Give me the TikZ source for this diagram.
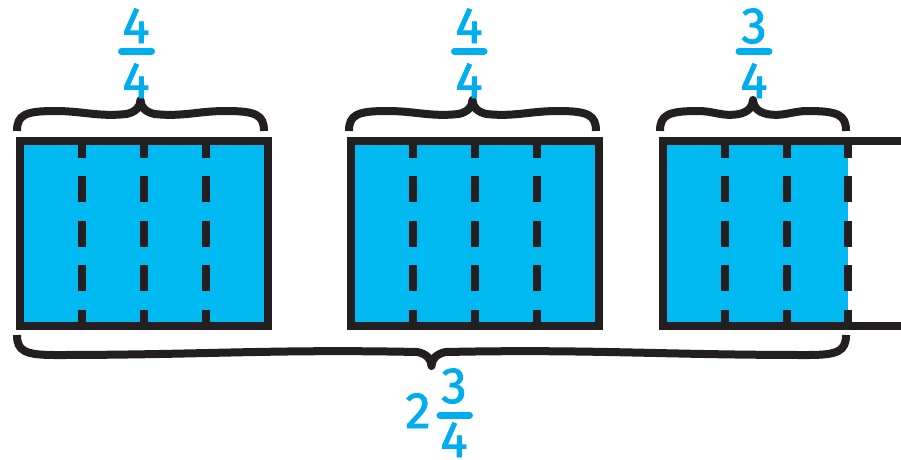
\documentclass[tikz,border=0pt]{standalone}
\usepackage{fontspec}
\setmainfont{Fira Sans}
\newfontfamily\digitfont{Fira Sans}[FakeBold=1.5]
\definecolor{fillblue}{RGB}{0,185,241}
\definecolor{txtblue}{RGB}{0,174,239}
\definecolor{ink}{RGB}{35,31,32}
\tikzset{
  border/.style={draw=ink, line width=8pt, line cap=butt},
  divider/.style={draw=ink, line width=8pt, dash pattern=on 26pt off 18.5pt, dash phase=12.3pt},
  bracestroke/.style={draw=ink, line width=8pt, line cap=butt, line join=round},
  fracbar/.style={draw=txtblue, line width=7pt, line cap=round},
  digit/.style={text=txtblue, inner sep=0pt, anchor=base, font=\digitfont\fontsize{51}{51}\selectfont},
}
% #1 centre x, #2 half width, #3 base y, #4 direction (1 = tip up, -1 = tip down)
\newcommand\mybrace[4]{%
  \begin{scope}[shift={(#1,#3)}, yscale=#4]
    \draw[bracestroke] ({-#2},0) .. controls ({-#2},-16) and ({-#2+8},-20) .. ({-#2+38},-20)
      .. controls ({-#2+38+0.4*(#2-52)},-20) and ({-14-0.4*(#2-52)},-14) .. (-14,-17)
      .. controls (-5,-19) and (0,-24) .. (0,-31)
      .. controls (0,-24) and (5,-19) .. (14,-17)
      .. controls ({14+0.4*(#2-52)},-14) and ({#2-38-0.4*(#2-52)},-20) .. ({#2-38},-20)
      .. controls ({#2-8},-20) and ({#2},-16) .. ({#2},0);
  \end{scope}}
% full box whose left border centre is at #1
\newcommand\fullbox[1]{%
  \fill[fillblue] (#1,141) rectangle ({#1+247.6},326);
  \foreach \i in {1,2,3} \draw[divider] ({#1+61.9*\i},144) -- ({#1+61.9*\i},322);
  \draw[border] (#1,137) -- (#1,330);
  \draw[border] ({#1+247.6},137) -- ({#1+247.6},330);
  \draw[border] ({#1-4},141) -- ({#1+251.6},141);
  \draw[border] ({#1-4},326) -- ({#1+251.6},326);}
\begin{document}
\begin{tikzpicture}[x=1pt,y=-1pt]
\useasboundingbox (0,0) rectangle (901,459);
% boxes
\fullbox{20}
\fullbox{351.3}
\fill[fillblue] (662.7,141) rectangle (848.4,326);
\foreach \i in {1,2,3} \draw[divider] ({662.7+61.9*\i},144) -- ({662.7+61.9*\i},322);
\draw[border] (662.7,137) -- (662.7,330);
\draw[border] (658.7,141) -- (901,141);
\draw[border] (658.7,326) -- (901,326);
% braces
\mybrace{140.5}{123.5}{131}{1}
\mybrace{472.5}{123.5}{131}{1}
\mybrace{753}{93}{131}{1}
\mybrace{431.5}{414.5}{335}{-1}
% fractions
\node[digit] (n1) at (136,43) {4};
\draw[fracbar] (121.5,51.3) -- (151.5,51.3);
\node[digit] (d1) at (136,98) {4};
\node[digit] (n2) at (469,43) {4};
\draw[fracbar] (454.5,51.3) -- (484,51.3);
\node[digit] (d2) at (469,98) {4};
\node[digit] (n3) at (754,43) {3};
\draw[fracbar] (739,51.3) -- (769,51.3);
\node[digit] (d3) at (754,98) {4};
\node[digit] (w) at (418,428) {2};
\node[digit] (n4) at (454,403) {3};
\draw[fracbar] (440,415) -- (469.5,415);
\node[digit] (d4) at (454,457) {4};
\end{tikzpicture}
\end{document}
